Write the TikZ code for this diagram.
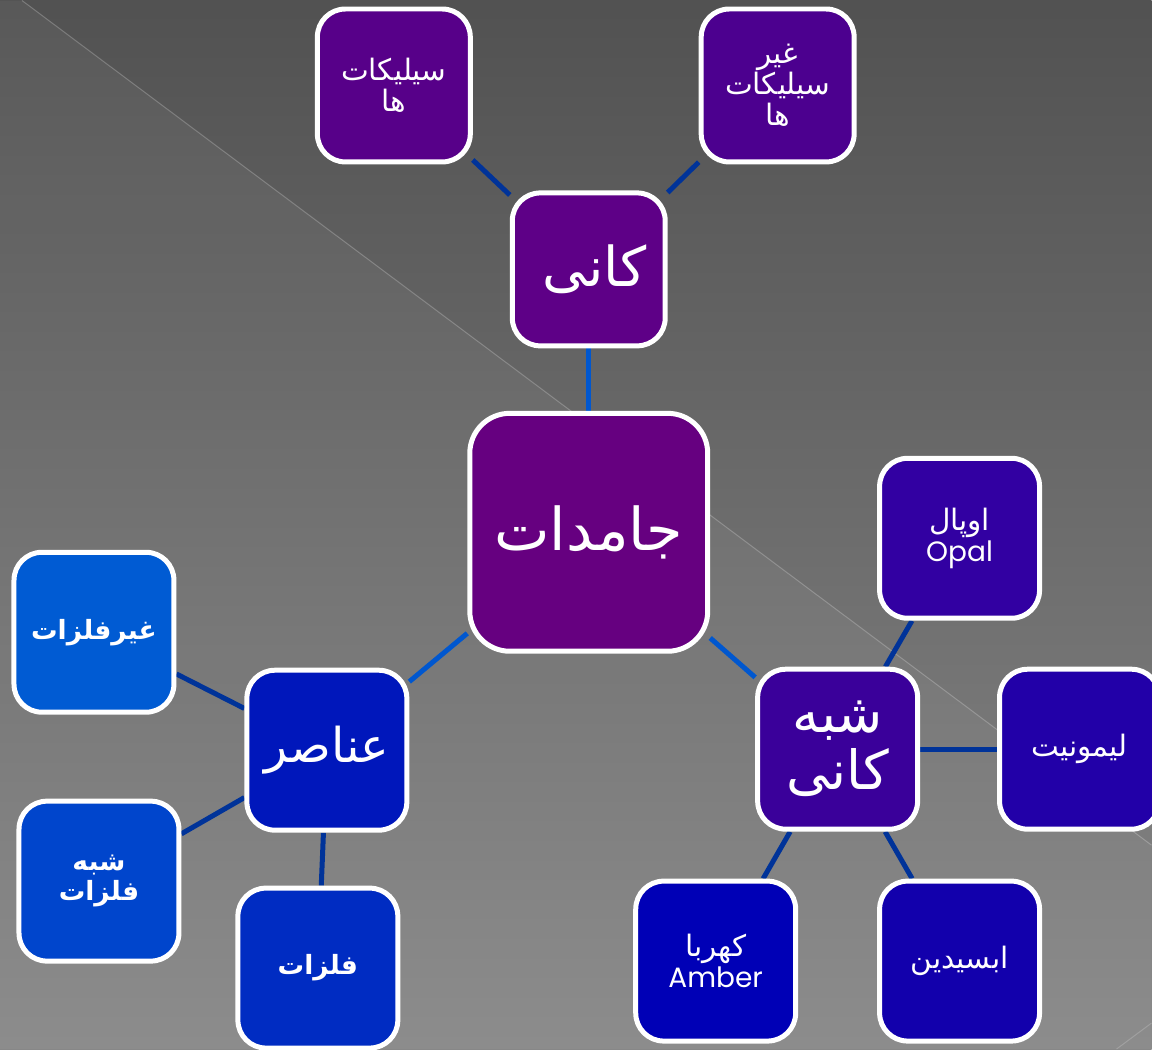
\documentclass[tikz,border=0pt]{standalone}
\usepackage{fontspec}
\TeXXeTstate=1
\newfontfamily\arfont[Script=Arabic]{DejaVu Sans}
\newfontfamily\latfont{Poppins}
\pgfdeclarelayer{back}
\pgfdeclarelayer{lines}
\pgfsetlayers{back,lines,main}
\definecolor{cJam}{HTML}{660080}
\definecolor{cKani}{HTML}{5E0087}
\definecolor{cSil}{HTML}{570089}
\definecolor{cNonSil}{HTML}{4C008F}
\definecolor{cAnasir}{HTML}{0017BB}
\definecolor{cGheir}{HTML}{005BD3}
\definecolor{cShebhF}{HTML}{0045CC}
\definecolor{cFelez}{HTML}{002CC2}
\definecolor{cShebhK}{HTML}{3A009A}
\definecolor{cOpal}{HTML}{3200A2}
\definecolor{cLimo}{HTML}{2200A8}
\definecolor{cAmber}{HTML}{0000B6}
\definecolor{cObsid}{HTML}{1200AC}
\definecolor{cLinkA}{HTML}{0057CF}
\definecolor{cLinkB}{HTML}{003399}
\tikzset{
  box/.style={draw=white, line width=5pt, rounded corners=28pt,
    minimum width=160pt, minimum height=160pt, inner sep=0pt,
    text=white, align=center, font=\arfont\fontsize{29.5}{31}\selectfont},
  boldbox/.style={box, font=\arfont\bfseries\fontsize{26.5}{30}\selectfont},
  bigbox/.style={box, font=\arfont\fontsize{48}{54}\selectfont},
  linkA/.style={draw=cLinkA, line width=5pt},
  linkB/.style={draw=cLinkB, line width=5pt}
}
\begin{document}
\begin{tikzpicture}[x=1pt,y=-1pt]
\begin{pgfonlayer}{back}
  \shade[top color=black!68, bottom color=black!47] (0,0) rectangle (1152,1049);
  \fill[white, opacity=0.045] (22,0) -- (1152,845) -- (1152,1049) -- (0,1049) -- (0,0) -- cycle;
  \draw[white, opacity=0.22, line width=1pt] (22,0) -- (1152,845);
  \draw[white, opacity=0.18, line width=1pt] (1117,1049) -- (1152,1023);
\end{pgfonlayer}
\useasboundingbox (0,0) rectangle (1152,1049);

\node[box, fill=cJam, minimum width=238pt, minimum height=238pt, rounded corners=40pt,
      font=\arfont\fontsize{59}{64}\selectfont] (jam) at (589,532) {\beginR جامدات\endR};
\node[bigbox, fill=cKani, minimum width=153pt, minimum height=153pt,
      font=\arfont\fontsize{55}{58}\selectfont] (kani) at (589,269) {\hspace*{12pt}\beginR کانی\endR};
\node[box, fill=cSil, minimum width=153pt, minimum height=153pt] (sil) at (394,85) {\beginR سیلیکات\endR\\\beginR ها\endR};
\node[box, fill=cNonSil, minimum width=153pt, minimum height=153pt] (nonsil) at (778,85) {\beginR غیر\endR\\\beginR سیلیکات\endR\\\beginR ها\endR};

\node[bigbox, fill=cAnasir] (anasir) at (327,750) {\beginR عناصر\endR};
\node[boldbox, fill=cGheir] (gheir) at (94,632) {\beginR غیرفلزات\endR};
\node[boldbox, fill=cShebhF] (shebhf) at (99,881) {\beginR شبه\endR\\\beginR فلزات\endR};
\node[boldbox, fill=cFelez] (felez) at (318,968) {\beginR فلزات\endR};

\node[bigbox, fill=cShebhK, font=\arfont\fontsize{54}{57}\selectfont] (shebhk) at (838,749) {\beginR شبه\endR\\\beginR کانی\endR};
\node[box, fill=cOpal] (opal) at (960,538) {\beginR اوپال\endR\\{\latfont\fontsize{28}{31}\selectfont Opal}};
\node[box, fill=cLimo] (limo) at (1080,749) {\beginR لیمونیت\endR};
\node[box, fill=cAmber] (amber) at (716,961) {\beginR کهربا\endR\\{\latfont\fontsize{28}{31}\selectfont Amber}};
\node[box, fill=cObsid] (obsid) at (960,961) {\beginR ابسیدین\endR};

\begin{pgfonlayer}{lines}
  \draw[linkA] (jam) -- (kani);
  \draw[linkA] (jam) -- (anasir);
  \draw[linkA] (jam) -- (shebhk);
  \draw[linkB] (kani) -- (sil);
  \draw[linkB] (kani) -- (nonsil);
  \draw[linkB] (anasir) -- (gheir);
  \draw[linkB] (anasir) -- (shebhf);
  \draw[linkB] (anasir) -- (felez);
  \draw[linkB] (shebhk) -- (opal);
  \draw[linkB] (shebhk) -- (limo);
  \draw[linkB] (shebhk) -- (amber);
  \draw[linkB] (shebhk) -- (obsid);
\end{pgfonlayer}
\end{tikzpicture}
\end{document}
